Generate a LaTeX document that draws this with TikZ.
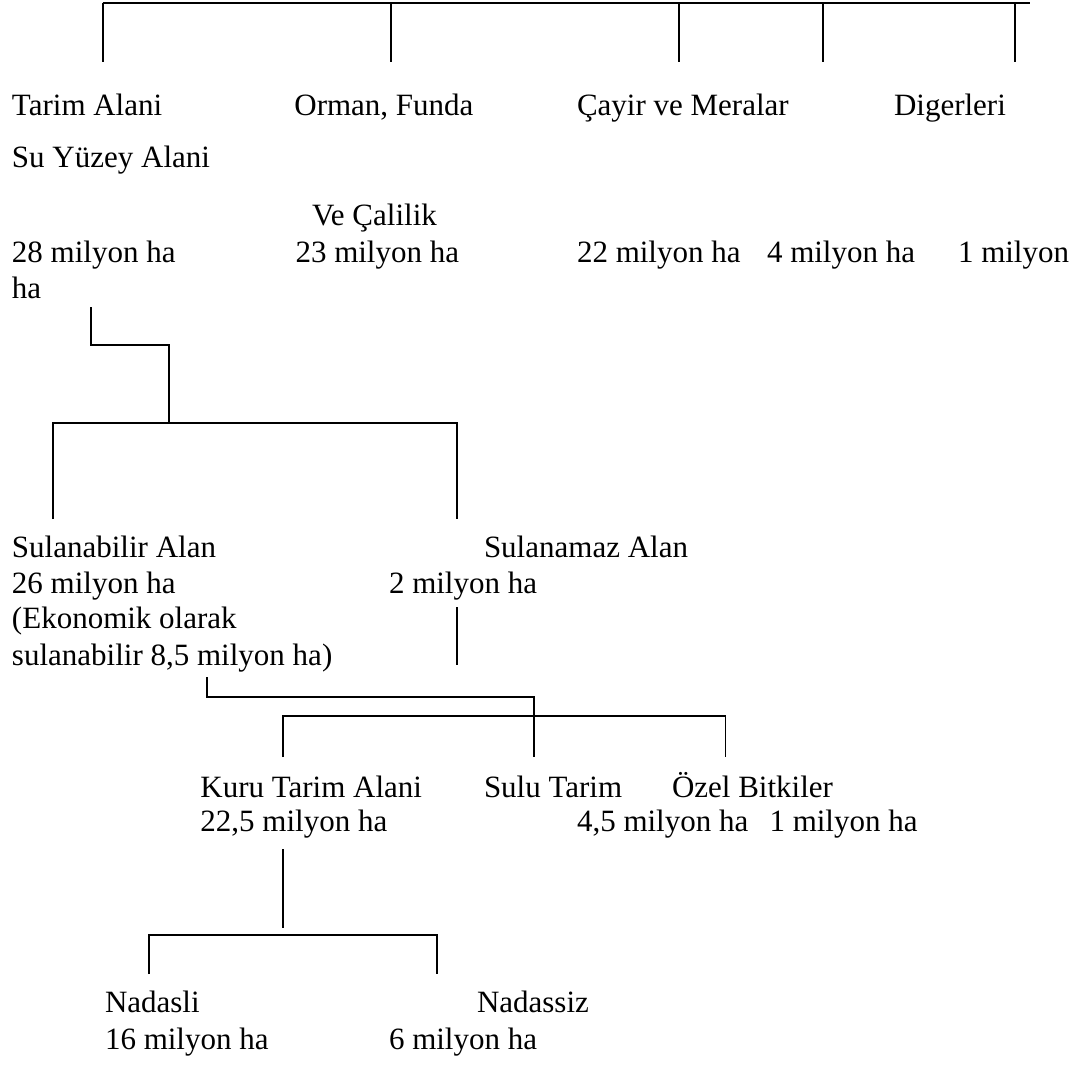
\documentclass[tikz,border=0pt]{standalone}
\usepackage{fontspec}
\newfontfamily\reffont{Liberation Serif}
\begin{document}
\begin{tikzpicture}[x=1pt,y=-1pt,
  lbl/.style={anchor=base west,inner sep=0pt,outer sep=0pt,font=\reffont\fontsize{31}{36}\selectfont},
  conn/.style={line width=1.8pt,draw=black}]
\useasboundingbox[fill=white] (0,0) rectangle (1076,1066);

% ---- top bracket ----
\coordinate (tstart) at (102.6,3.3);
\coordinate (tend) at (1030,3.3);
\draw[conn] (tstart) -- (tend);
\foreach \n/\x in {a/102.6,b/390.8,c/679,d/823,e/1015}{
  \coordinate (top\n) at (\x,3.3);
  \coordinate (drop\n) at (\x,62);
  \draw[conn] (top\n) -- (drop\n);
}

% ---- labels, first level ----
\node[lbl] (tarim) at (12,115) {Tarim Alani};
\node[lbl] (orman) at (294.4,115) {Orman, Funda};
\node[lbl] (cayir) at (577,115) {Çayir ve Meralar};
\node[lbl] (diger) at (894,115) {Digerleri};
\node[lbl] (suyuz) at (12,167) {Su Yüzey Alani};
\node[lbl] (vecal) at (312,225) {Ve Çalilik};
\node[lbl] (v28) at (12,262) {28 milyon ha};
\node[lbl] (v23) at (295.5,262) {23 milyon ha};
\node[lbl] (v22) at (577,262) {22 milyon ha};
\node[lbl] (v4) at (767,262) {4 milyon ha};
\node[lbl] (v1) at (958,262) {1 milyon};
\node[lbl] (vha) at (12,298) {ha};

% ---- connector from Tarim Alani ----
\coordinate (c1a) at (90.6,307);
\coordinate (c1m) at (168.7,345);
\coordinate (c1b) at (168.7,423);
\draw[conn] (c1a) |- (c1m) -- (c1b);
\coordinate (b2l) at (52.7,519);
\coordinate (b2r) at (457.3,519);
\draw[conn] (b2l) |- (c1b) -| (b2r);

% ---- second level ----
\node[lbl] (sulab) at (12,557) {Sulanabilir Alan};
\node[lbl] (v26) at (12,593) {26 milyon ha};
\node[lbl] (ekon) at (12,628) {(Ekonomik olarak};
\node[lbl] (ekon2) at (12,665) {sulanabilir 8,5 milyon ha)};
\node[lbl] (sulam) at (484,557) {Sulanamaz Alan};
\node[lbl] (v2) at (389,593) {2 milyon ha};

\coordinate (s1) at (457.3,607);
\coordinate (s2) at (457.3,665);
\draw[conn] (s1) -- (s2);

% ---- connector to third level ----
\coordinate (c3a) at (206.6,677);
\coordinate (c3m) at (534,697);
\coordinate (c3b) at (534,757);
\draw[conn] (c3a) |- (c3m) -- (c3b);
\coordinate (b4l) at (283,757);
\coordinate (b4tl) at (283,716);
\coordinate (b4tr) at (725.5,716);
\coordinate (b4r) at (725.5,757);
\draw[conn] (b4l) -- (b4tl) -- (b4tr) -- (b4r);

% ---- third level ----
\node[lbl] (kuru) at (200.4,797) {Kuru Tarim Alani};
\node[lbl] (sulu) at (484,797) {Sulu Tarim};
\node[lbl] (ozel) at (672,797) {Özel Bitkiler};
\node[lbl] (v225) at (200.4,831) {22,5 milyon ha};
\node[lbl] (v45) at (577,831) {4,5 milyon ha};
\node[lbl] (v1b) at (769.5,831) {1 milyon ha};

\coordinate (k1) at (283,849);
\coordinate (k2) at (283,928);
\draw[conn] (k1) -- (k2);
\coordinate (b5l) at (148.8,974);
\coordinate (b5tl) at (148.8,935);
\coordinate (b5tr) at (437.3,935);
\coordinate (b5r) at (437.3,974);
\draw[conn] (b5l) -- (b5tl) -- (b5tr) -- (b5r);

% ---- fourth level ----
\node[lbl] (nadasli) at (105,1012) {Nadasli};
\node[lbl] (v16) at (105,1049) {16 milyon ha};
\node[lbl] (nadassiz) at (477,1012) {Nadassiz};
\node[lbl] (v6) at (389,1049) {6 milyon ha};
\end{tikzpicture}
\end{document}
